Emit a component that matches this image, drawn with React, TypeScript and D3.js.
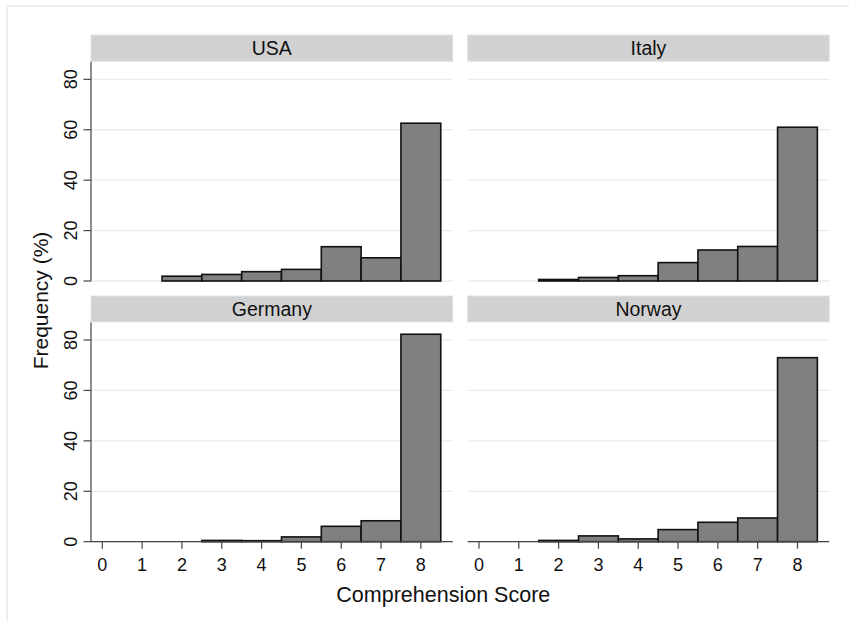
import React from "react";
import * as d3 from "d3";

const scores = [0, 1, 2, 3, 4, 5, 6, 7, 8];
const countries = ["USA", "Italy", "Germany", "Norway"];
const usa = [0, 0, 1.9, 2.6, 3.7, 4.6, 13.6, 9.2, 62.6];
const italy = [0, 0, 0.6, 1.4, 2.1, 7.3, 12.3, 13.7, 61.0];
const germany = [0, 0, 0, 0.5, 0.4, 1.9, 6.1, 8.3, 82.3];
const norway = [0, 0, 0.5, 2.3, 1.1, 4.8, 7.7, 9.4, 73.0];
const yTicks = [0, 20, 40, 60, 80];
const xTicks = [0, 1, 2, 3, 4, 5, 6, 7, 8];
const xTitle = "Comprehension Score";
const yTitle = "Frequency (%)";

const seriesList = [usa, italy, germany, norway];

const W = 849;
const H = 621;
const FONT = "'Liberation Sans', Arial, Helvetica, sans-serif";

const colsX: [number, number][] = [
  [91, 452.7],
  [467.7, 829.3],
];
const rowsY: { strip: [number, number]; plot: [number, number] }[] = [
  { strip: [35, 61.3], plot: [61.7, 281] },
  { strip: [296, 322], plot: [322.4, 541.7] },
];

export default function App() {
  const panels = countries.map((name, i) => {
    const col = i % 2;
    const row = Math.floor(i / 2);
    const [x0, x1] = colsX[col];
    const { strip, plot } = rowsY[row];
    const x = d3.scaleLinear().domain([-0.284, 8.8]).range([x0, x1]);
    const y = d3.scaleLinear().domain([0, 87]).range([plot[1], plot[0]]);
    const values = seriesList[i];
    return (
      <g key={name}>
        <rect
          x={x0}
          y={strip[0]}
          width={x1 - x0}
          height={strip[1] - strip[0]}
          fill="#d1d1d1"
          stroke="#dde5e8"
          strokeWidth={1}
        />
        <text
          x={(x0 + x1) / 2}
          y={strip[0] + 20}
          textAnchor="middle"
          fontSize={19.5}
          fontFamily={FONT}
          fill="#111"
        >
          {name}
        </text>
        {yTicks.map((t) => (
          <line
            key={t}
            x1={x0}
            x2={x1}
            y1={y(t)}
            y2={y(t)}
            stroke="#ebebeb"
            strokeWidth={1.3}
          />
        ))}
        {scores.map((s, j) =>
          values[j] > 0 ? (
            <rect
              key={s}
              x={x(s - 0.5)}
              y={y(values[j])}
              width={x(s + 0.5) - x(s - 0.5)}
              height={y(0) - y(values[j])}
              fill="#808080"
              stroke="#111"
              strokeWidth={1.6}
            />
          ) : null
        )}
        {col === 0 && (
          <g>
            <line x1={x0} x2={x0} y1={plot[0]} y2={plot[1]} stroke="#444" strokeWidth={1.2} />
            {yTicks.map((t) => (
              <g key={t}>
                <line x1={x0 - 7.5} x2={x0} y1={y(t)} y2={y(t)} stroke="#444" strokeWidth={1.2} />
                <text
                  transform={`translate(${x0 - 13.7},${y(t)}) rotate(-90)`}
                  textAnchor="middle"
                  fontSize={18}
                  fontFamily={FONT}
                  fill="#111"
                >
                  {t}
                </text>
              </g>
            ))}
          </g>
        )}
        {row === 1 && (
          <g>
            <line x1={x0} x2={x1} y1={plot[1]} y2={plot[1]} stroke="#444" strokeWidth={1.2} />
            {xTicks.map((t) => (
              <g key={t}>
                <line x1={x(t)} x2={x(t)} y1={plot[1]} y2={plot[1] + 7} stroke="#444" strokeWidth={1.2} />
                <text
                  x={x(t)}
                  y={plot[1] + 29}
                  textAnchor="middle"
                  fontSize={18}
                  fontFamily={FONT}
                  fill="#111"
                >
                  {t}
                </text>
              </g>
            ))}
          </g>
        )}
      </g>
    );
  });

  return (
    <svg
      width={W}
      height={H}
      style={{ position: "absolute", left: 0, top: 0, background: "#fff" }}
    >
      <rect x={0} y={0} width={W} height={H} fill="#fff" />
      <rect x={7} y={6} width={W + 10} height={H + 10} fill="none" stroke="#eeeeee" strokeWidth={2} />
      {panels}
      <text
        transform={`translate(47.5,300.5) rotate(-90)`}
        textAnchor="middle"
        fontSize={21}
        fontFamily={FONT}
        fill="#111"
      >
        {yTitle}
      </text>
      <text x={443.3} y={601.5} textAnchor="middle" fontSize={21.5} fontFamily={FONT} fill="#111">
        {xTitle}
      </text>
    </svg>
  );
}
